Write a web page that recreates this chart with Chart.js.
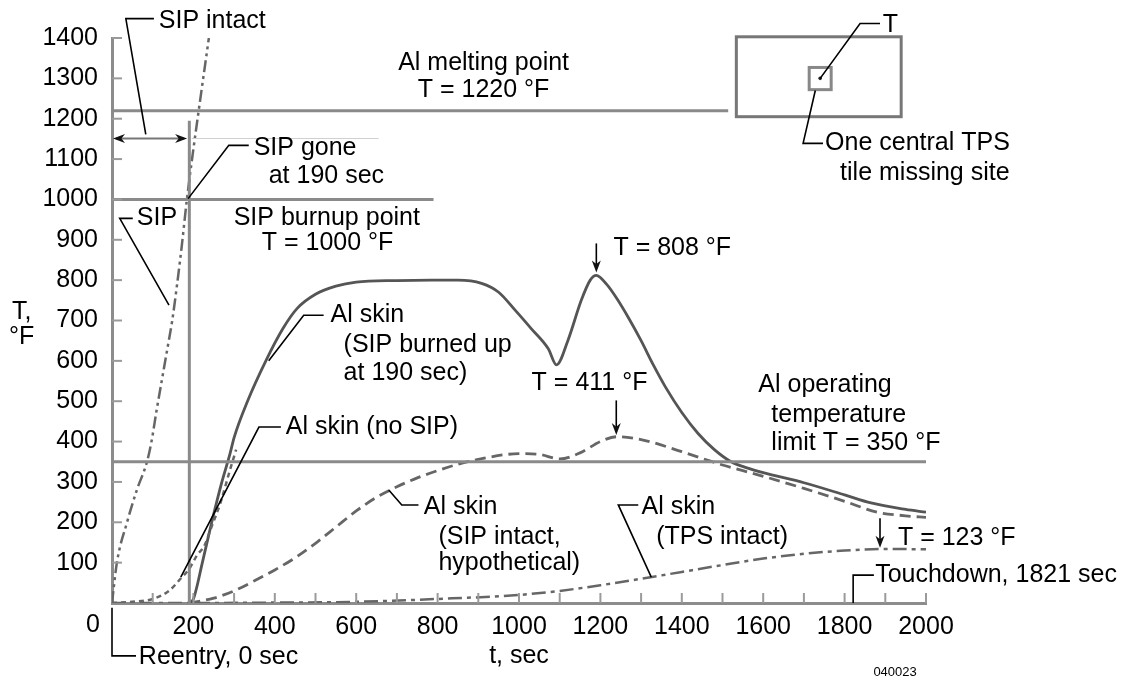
<!DOCTYPE html>
<html>
<head>
<meta charset="utf-8">
<script src="https://cdn.jsdelivr.net/npm/chart.js@4.4.1/dist/chart.umd.min.js"></script>
<style>
  html, body { margin: 0; padding: 0; background: #fff; }
</style>
</head>
<body>
<canvas id="tempChart" width="1138" height="684"></canvas>
<script>
// SIP surface temperature (intact, then burning up)
const sipTime = [0, 12, 37, 61, 86, 97, 110, 123, 136, 148, 160, 172, 184, 198, 213, 238];
const sipTemp = [0, 100, 200, 280, 350, 400, 480, 555, 630, 700, 790, 890, 1000, 1110, 1220, 1400];

// Al skin, no SIP
const noSipTime = [0, 50, 100, 140, 170, 190, 210, 226, 245, 267, 290, 305];
const noSipTemp = [0, 3, 10, 30, 62, 85, 120, 140, 190, 250, 330, 380];

// Al skin, SIP burned up at 190 sec
const burnTime = [190, 200, 222, 245, 270, 290, 300, 333, 378, 420, 455, 500, 550, 600, 700, 785, 850, 908, 950, 991, 1030, 1072, 1092, 1120, 1153, 1175, 1190, 1215, 1240, 1270, 1300, 1330, 1360, 1400, 1440, 1480, 1521, 1560, 1600, 1700, 1800, 1865, 1950, 2000];
const burnTemp = [0, 10, 100, 200, 300, 370, 410, 500, 600, 680, 730, 765, 785, 795, 799, 800, 800, 792, 770, 725, 680, 630, 590, 650, 750, 800, 812, 790, 755, 705, 650, 590, 535, 472, 420, 380, 350, 335, 323, 298, 268, 248, 232, 225];

// Al skin, SIP intact (hypothetical)
const hypoTime = [190, 250, 300, 350, 400, 450, 500, 550, 600, 650, 700, 750, 800, 850, 900, 1000, 1050, 1100, 1150, 1200, 1240, 1300, 1400, 1500, 1550, 1600, 1700, 1800, 1880, 1950, 2000];
const hypoTemp = [0, 12, 30, 55, 82, 112, 148, 188, 228, 262, 288, 310, 328, 344, 356, 370, 368, 357, 372, 400, 412, 405, 375, 342, 328, 314, 284, 252, 225, 216, 212];

// Al skin, TPS intact
const tpsTime = [0, 200, 400, 600, 800, 1000, 1100, 1200, 1300, 1400, 1500, 1600, 1700, 1800, 1900, 2000];
const tpsTemp = [0, 0, 1, 3, 10, 20, 30, 44, 60, 77, 94, 110, 122, 130, 134, 133];

// reference levels
const meltTime = [0, 1514];
const meltTemp = [1220, 1220];
const burnupTime = [0, 790];
const burnupTemp = [1000, 1000];
const limitTime = [0, 2000];
const limitTemp = [350, 350];
const goneTime = [190, 190];
const goneTemp = [0, 1195];

const xTicks = [0, 200, 400, 600, 800, 1000, 1200, 1400, 1600, 1800, 2000];
const yTicks = [100, 200, 300, 400, 500, 600, 700, 800, 900, 1000, 1100, 1200, 1300, 1400];

const pts = (xs, ys) => xs.map((v, i) => ({ x: v, y: ys[i] }));

// texts placed in data units (t, T)
const notes = [
    { text: 'SIP intact', t: 115, T: 1443 },
    { text: 'Al melting point', t: 913, T: 1339, align: 'center' },
    { text: 'T = 1220 °F', t: 913, T: 1270, align: 'center' },
    { text: 'SIP gone', t: 348, T: 1126 },
    { text: 'at 190 sec', t: 385, T: 1057 },
    { text: 'SIP burnup point', t: 299, T: 953 },
    { text: 'T = 1000 °F', t: 368, T: 891 },
    { text: 'SIP', t: 61, T: 953 },
    { text: 'Al skin', t: 537, T: 713 },
    { text: '(SIP burned up', t: 569, T: 639 },
    { text: 'at 190 sec)', t: 569, T: 569 },
    { text: 'Al skin (no SIP)', t: 427, T: 436 },
    { text: 'T = 808 °F', t: 1232, T: 879 },
    { text: 'T = 411 °F', t: 1031, T: 545 },
    { text: 'Al operating', t: 1588, T: 540 },
    { text: 'temperature', t: 1620, T: 465 },
    { text: 'limit T = 350 °F', t: 1620, T: 396 },
    { text: 'Al skin', t: 766, T: 238 },
    { text: '(SIP intact,', t: 802, T: 163 },
    { text: 'hypothetical)', t: 802, T: 99 },
    { text: 'Al skin', t: 1301, T: 238 },
    { text: '(TPS intact)', t: 1337, T: 163 },
    { text: 'T = 123 °F', t: 1931, T: 161 },
    { text: 'Touchdown, 1821 sec', t: 1875, T: 69 },
    { text: 'Reentry, 0 sec', t: 66, T: -134 },
    { text: 'One central TPS', t: 1752, T: 1139 },
    { text: 'tile missing site', t: 1789, T: 1064 },
    { text: 'T', t: 1894, T: 1431 },
    { text: '0', t: -47, T: -54, align: 'center' },
    { text: 'T,', t: -222, T: 720, align: 'center' },
    { text: '°F', t: -222, T: 658, align: 'center' },
    { text: '040023', t: 1924, T: -171, align: 'center', size: 13 }
];

const leaders = [
    [[83, 1161], [34, 1448], [103, 1448]],
    [[187, 1002], [287, 1134], [336, 1134]],
    [[140, 738], [19, 953], [51, 953]],
    [[385, 600], [471, 713], [520, 713]],
    [[169, 64], [361, 436], [415, 436]],
    [[680, 280], [712, 243], [753, 243]],
    [[1325, 64], [1244, 243], [1293, 243]],
    [[1821, 0], [1821, 69], [1872, 69]],
    [[0, -12], [0, -131], [59, -131]],
    [[1740, 1300], [1838, 1436], [1887, 1436]],
    [[1728, 1270], [1698, 1139], [1747, 1139]]
];

const downArrows = [
    { t: 1190, from: 891, to: 819 },
    { t: 1239, from: 502, to: 416 },
    { t: 1887, from: 210, to: 137 }
];

function head(ctx, x, y, dx, dy) {
    const L = 12, W = 4.5;
    const nx = -dy, ny = dx;
    ctx.beginPath();
    ctx.moveTo(x, y);
    ctx.lineTo(x - dx * L + nx * W, y - dy * L + ny * W);
    ctx.lineTo(x - dx * L * 0.7, y - dy * L * 0.7);
    ctx.lineTo(x - dx * L - nx * W, y - dy * L - ny * W);
    ctx.closePath();
    ctx.fill();
}

const annotate = {
    id: 'annotate',
    afterDraw(chart) {
        const ctx = chart.ctx;
        const xs = chart.scales.x, ys = chart.scales.y;
        const px = t => xs.getPixelForValue(t);
        const py = T => ys.getPixelForValue(T);
        const area = chart.chartArea;
        ctx.save();

        // inner tick marks every 100
        ctx.strokeStyle = '#9a9a9a';
        ctx.lineWidth = 2;
        for (let v = 100; v <= 1400; v += 100) {
            ctx.beginPath();
            ctx.moveTo(area.left, py(v));
            ctx.lineTo(area.left + 10, py(v));
            ctx.stroke();
        }
        for (let t = 100; t <= 2000; t += 100) {
            ctx.beginPath();
            ctx.moveTo(px(t), area.bottom);
            ctx.lineTo(px(t), area.bottom - 10);
            ctx.stroke();
        }

        // inset: panel with the missing tile
        ctx.strokeStyle = '#777';
        ctx.lineWidth = 3;
        ctx.strokeRect(px(1534), py(1403), px(1939) - px(1534), py(1205) - py(1403));
        ctx.strokeStyle = '#888';
        ctx.strokeRect(px(1713), py(1327), px(1767) - px(1713), py(1272) - py(1327));
        ctx.fillStyle = '#222';
        ctx.beginPath();
        ctx.arc(px(1740), py(1300), 1.8, 0, Math.PI * 2);
        ctx.fill();

        // faint marker line beside the SIP gone point
        ctx.strokeStyle = '#d0d0d0';
        ctx.lineWidth = 1;
        ctx.beginPath();
        ctx.moveTo(px(196), py(1151));
        ctx.lineTo(px(655), py(1151));
        ctx.stroke();

        // double arrow 0 -> 190 sec
        ctx.strokeStyle = '#777';
        ctx.fillStyle = '#111';
        ctx.lineWidth = 2;
        ctx.beginPath();
        ctx.moveTo(px(0) + 4, py(1151));
        ctx.lineTo(px(187) - 4, py(1151));
        ctx.stroke();
        head(ctx, px(0) + 1, py(1151), -1, 0);
        head(ctx, px(187) - 1, py(1151), 1, 0);

        // leader lines
        ctx.strokeStyle = '#000';
        ctx.lineWidth = 1.6;
        leaders.forEach(pl => {
            ctx.beginPath();
            pl.forEach((p, i) => i ? ctx.lineTo(px(p[0]), py(p[1])) : ctx.moveTo(px(p[0]), py(p[1])));
            ctx.stroke();
        });

        // down arrows
        downArrows.forEach(a => {
            ctx.beginPath();
            ctx.moveTo(px(a.t), py(a.from));
            ctx.lineTo(px(a.t), py(a.to) - 6);
            ctx.stroke();
            head(ctx, px(a.t), py(a.to), 0, 1);
        });

        // texts
        ctx.fillStyle = '#000';
        ctx.textBaseline = 'middle';
        notes.forEach(n => {
            ctx.font = (n.size || 25) + "px 'Liberation Sans', Arial, Helvetica, sans-serif";
            ctx.textAlign = n.align || 'left';
            ctx.fillText(n.text, px(n.t), py(n.T));
        });
        ctx.restore();
    }
};

const refStyle = { borderColor: '#8a8a8a', borderWidth: 3, tension: 0 };
const fontSpec = { family: "'Liberation Sans', Arial, Helvetica, sans-serif", size: 25 };

new Chart(document.getElementById('tempChart'), {
    type: 'line',
    data: {
        datasets: [
            Object.assign({ label: 'Al melting point', data: pts(meltTime, meltTemp) }, refStyle),
            Object.assign({ label: 'SIP burnup point', data: pts(burnupTime, burnupTemp) }, refStyle),
            Object.assign({ label: 'Al operating limit', data: pts(limitTime, limitTemp) }, refStyle),
            Object.assign({ label: 'SIP gone', data: pts(goneTime, goneTemp) }, refStyle),
            {
                label: 'SIP',
                data: pts(sipTime, sipTemp),
                borderColor: '#666',
                borderWidth: 2.5,
                borderDash: [12, 4, 3, 4, 3, 4],
                cubicInterpolationMode: 'monotone'
            },
            {
                label: 'Al skin (no SIP)',
                data: pts(noSipTime, noSipTemp),
                borderColor: '#666',
                borderWidth: 2.5,
                borderDash: [5, 4],
                cubicInterpolationMode: 'monotone'
            },
            {
                label: 'Al skin (SIP burned up)',
                data: pts(burnTime, burnTemp),
                borderColor: '#555',
                borderWidth: 2.8,
                cubicInterpolationMode: 'monotone'
            },
            {
                label: 'Al skin (SIP intact)',
                data: pts(hypoTime, hypoTemp),
                borderColor: '#666',
                borderWidth: 2.8,
                borderDash: [11, 6],
                cubicInterpolationMode: 'monotone'
            },
            {
                label: 'Al skin (TPS intact)',
                data: pts(tpsTime, tpsTemp),
                borderColor: '#666',
                borderWidth: 2.5,
                borderDash: [14, 5, 4, 5],
                cubicInterpolationMode: 'monotone'
            }
        ]
    },
    options: {
        responsive: false,
        animation: false,
        layout: { padding: { top: 38, right: 212, left: 0, bottom: 0 } },
        elements: { point: { radius: 0 } },
        plugins: { legend: { display: false }, tooltip: { enabled: false } },
        scales: {
            x: {
                type: 'linear',
                min: 0,
                max: 2000,
                afterFit: s => { s.height = 81; },
                afterBuildTicks: s => { s.ticks = xTicks.map(v => ({ value: v })); },
                grid: { display: false, drawTicks: false },
                border: { display: true, color: '#8c8c8c', width: 3 },
                ticks: {
                    padding: 9,
                    color: '#000',
                    maxRotation: 0,
                    font: fontSpec,
                    callback: v => v === 0 ? '' : String(v)
                },
                title: {
                    display: true,
                    text: 't, sec',
                    color: '#000',
                    padding: { top: 0, bottom: 13 },
                    font: fontSpec
                }
            },
            y: {
                min: 0,
                max: 1400,
                afterFit: s => { s.width = 112; },
                afterBuildTicks: s => { s.ticks = yTicks.map(v => ({ value: v })); },
                grid: { display: false, drawTicks: false },
                border: { display: true, color: '#8c8c8c', width: 3 },
                ticks: {
                    padding: 14,
                    color: '#000',
                    font: fontSpec,
                    callback: v => String(v)
                }
            }
        }
    },
    plugins: [annotate]
});
</script>
</body>
</html>
